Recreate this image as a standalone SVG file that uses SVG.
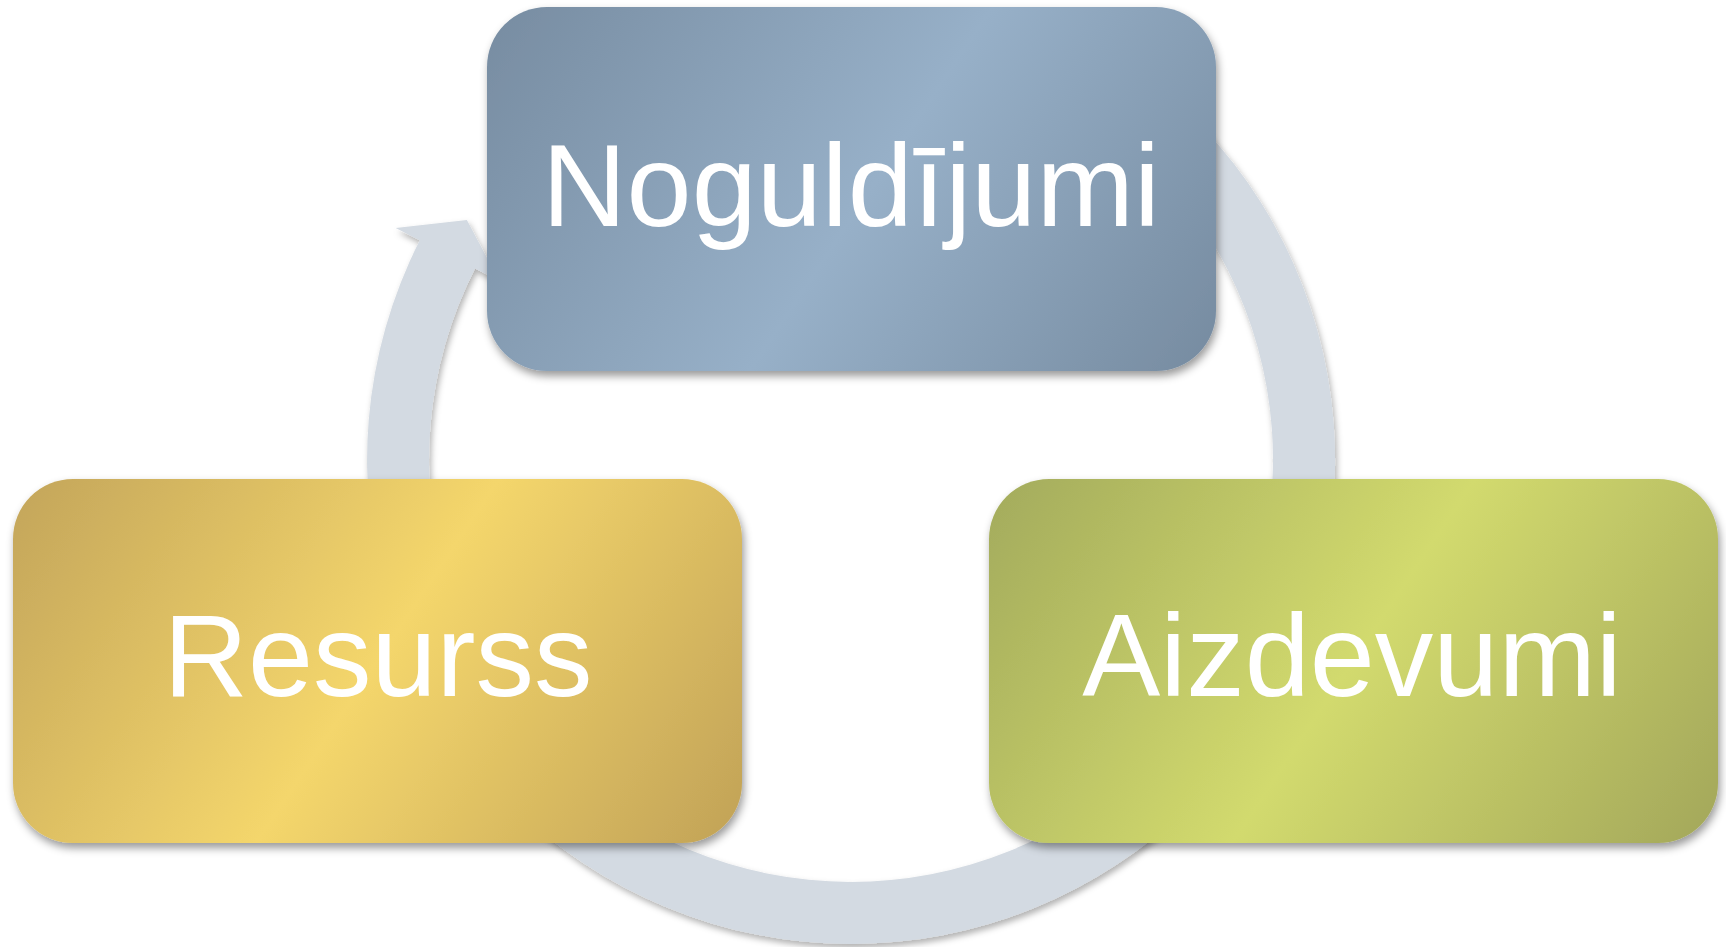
<svg xmlns="http://www.w3.org/2000/svg" width="1726" height="947" viewBox="0 0 1726 947">
<style>
.lbl{font-family:"Liberation Sans",Arial,sans-serif;font-size:117px;fill:#ffffff;text-anchor:middle}
.box{filter:url(#sh)}
</style>
<defs>
<filter id="sh" x="-5%" y="-5%" width="110%" height="115%">
<feDropShadow dx="2" dy="5" stdDeviation="4" flood-color="#000" flood-opacity="0.4"/>
</filter>
<filter id="rsh" x="-5%" y="-5%" width="110%" height="110%">
<feDropShadow dx="2" dy="4" stdDeviation="3" flood-color="#000" flood-opacity="0.3"/>
</filter>
<linearGradient id="gBlue" x1="-0.1" y1="0.3" x2="1.1" y2="0.7">
<stop offset="0" stop-color="#778CA1"/>
<stop offset="0.52" stop-color="#97B0C8"/>
<stop offset="1" stop-color="#768BA0"/>
</linearGradient>
<linearGradient id="gYellow" x1="-0.1" y1="0.3" x2="1.1" y2="0.7">
<stop offset="0" stop-color="#C3A55A"/>
<stop offset="0.5" stop-color="#F4D66C"/>
<stop offset="1" stop-color="#C1A257"/>
</linearGradient>
<linearGradient id="gGreen" x1="-0.1" y1="0.3" x2="1.1" y2="0.7">
<stop offset="0" stop-color="#A3AB5C"/>
<stop offset="0.5" stop-color="#D2DA6E"/>
<stop offset="1" stop-color="#A3A75A"/>
</linearGradient>
</defs>
<g id="connectors">
<path filter="url(#rsh)" fill="#D3DAE2" d="M1093,40.8 A484,484 0 1 1 419.8,240.3 L395.7,228 L466.9,219.9 L499.1,280.7 L475,268.4 A422,422 0 1 0 1062,94.5 Z"/>
</g>
<g id="node-noguldijumi">
<rect class="box" x="487" y="7" width="729" height="364" rx="60" fill="url(#gBlue)"/>
<text class="lbl" x="851" y="226">Noguldījumi</text>
</g>
<g id="node-resurss">
<rect class="box" x="13" y="479" width="729" height="364" rx="60" fill="url(#gYellow)"/>
<text class="lbl" x="378" y="696">Resurss</text>
</g>
<g id="node-aizdevumi">
<rect class="box" x="989" y="479" width="729" height="364" rx="60" fill="url(#gGreen)"/>
<text class="lbl" x="1352" y="696">Aizdevumi</text>
</g>
</svg>
